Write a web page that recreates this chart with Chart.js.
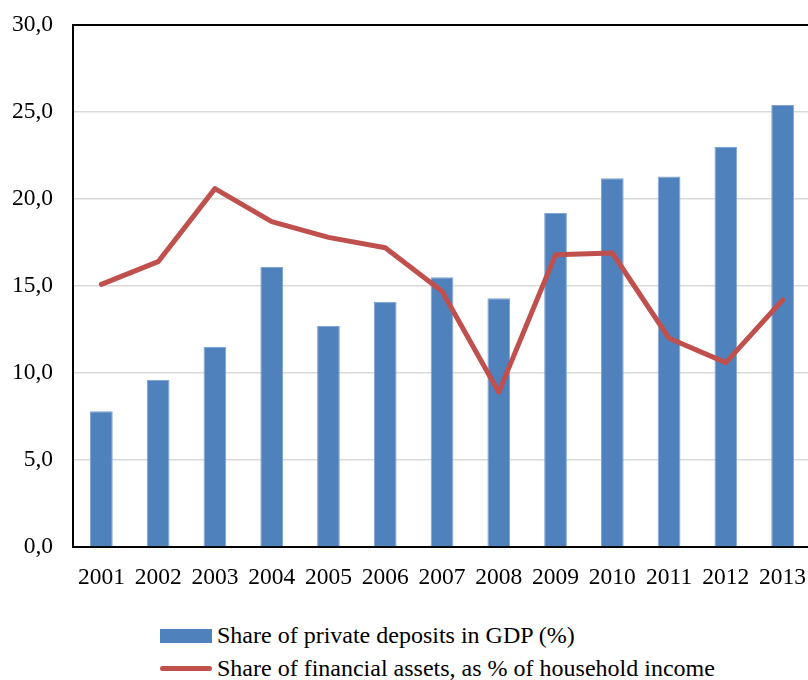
<!DOCTYPE html>
<html>
<head>
<meta charset="utf-8">
<script src="https://cdn.jsdelivr.net/npm/chart.js@4"></script>
<style>
  html, body { margin: 0; padding: 0; background: #fff; overflow: hidden; }
  #wrap { position: relative; width: 808px; height: 680px; overflow: hidden; }
  #box { position: absolute; left: 0; top: -9px; width: 830px; height: 609px; }
  #legend { position: absolute; left: 160px; top: 619px; font-family: "Liberation Serif", "Times New Roman", serif; font-size: 24px; color: #000; }
  .item { display: flex; align-items: center; height: 33px; white-space: nowrap; }
  .sw { width: 52px; margin-right: 5px; }
</style>
</head>
<body>
<div id="wrap">
  <div id="box"><canvas id="chart" width="830" height="609"></canvas></div>
  <div id="legend"></div>
</div>
<script>
// Data
const years = ['2001', '2002', '2003', '2004', '2005', '2006', '2007', '2008', '2009', '2010', '2011', '2012', '2013'];
const depositsGdp = [7.8, 9.6, 11.5, 16.1, 12.7, 14.1, 15.5, 14.3, 19.2, 21.2, 21.3, 23.0, 25.4];
const financialAssets = [15.1, 16.4, 20.6, 18.7, 17.8, 17.2, 14.7, 8.9, 16.8, 16.9, 12.0, 10.6, 14.2];
const yTicks = [0, 5, 10, 15, 20, 25, 30];

const serif = '"Liberation Serif", "Times New Roman", serif';

const chart = new Chart(document.getElementById('chart').getContext('2d'), {
    type: 'bar',
    data: {
        labels: years,
        datasets: [{
            label: 'Share of private deposits in GDP (%)',
            data: depositsGdp,
            backgroundColor: '#4F81BD',
            borderColor: '#7fa3d2',
            borderWidth: 1,
            categoryPercentage: 1,
            barPercentage: 0.4,
            order: 2
        }, {
            type: 'line',
            label: 'Share of financial assets, as % of household income',
            data: financialAssets,
            borderColor: '#C0504D',
            backgroundColor: '#C0504D',
            borderWidth: 5,
            pointRadius: 0,
            tension: 0,
            borderCapStyle: 'round',
            borderJoinStyle: 'round',
            order: 1
        }]
    },
    options: {
        responsive: false,
        animation: false,
        layout: { padding: { top: 16, right: 19, left: 0, bottom: 0 } },
        plugins: {
            legend: { display: false },
            tooltip: { enabled: false }
        },
        scales: {
            x: {
                grid: { display: false, drawTicks: false },
                border: { color: '#000', width: 2 },
                ticks: { color: '#000', font: { family: serif, size: 23.5 }, padding: 17, maxRotation: 0, autoSkip: false },
                afterFit: (s) => { s.height = 53; }
            },
            y: {
                min: 0,
                max: 30,
                afterBuildTicks: (s) => { s.ticks = yTicks.map(v => ({ value: v })); },
                grid: {
                    drawTicks: false,
                    color: (c) => c.tick && c.tick.value === 30 ? '#000' : '#D9D9D9',
                    lineWidth: (c) => c.tick && c.tick.value === 30 ? 2 : 1.5
                },
                border: { color: '#000', width: 2 },
                ticks: {
                    color: '#000',
                    font: { family: serif, size: 23.5 },
                    padding: 20,
                    callback: (v) => v.toFixed(1).replace('.', ',')
                },
                afterFit: (s) => { s.width = 73; }
            }
        }
    }
});

// legend under the chart, built from the datasets
const legend = document.getElementById('legend');
chart.data.datasets.forEach(ds => {
    const item = document.createElement('div');
    item.className = 'item';
    const sw = document.createElement('span');
    sw.className = 'sw';
    if (ds.type === 'line') {
        sw.style.height = '5px';
        sw.style.borderRadius = '3px';
        sw.style.background = ds.borderColor;
    } else {
        sw.style.height = '14px';
        sw.style.background = ds.backgroundColor;
    }
    item.appendChild(sw);
    item.appendChild(document.createTextNode(ds.label));
    legend.appendChild(item);
});
</script>
</body>
</html>
